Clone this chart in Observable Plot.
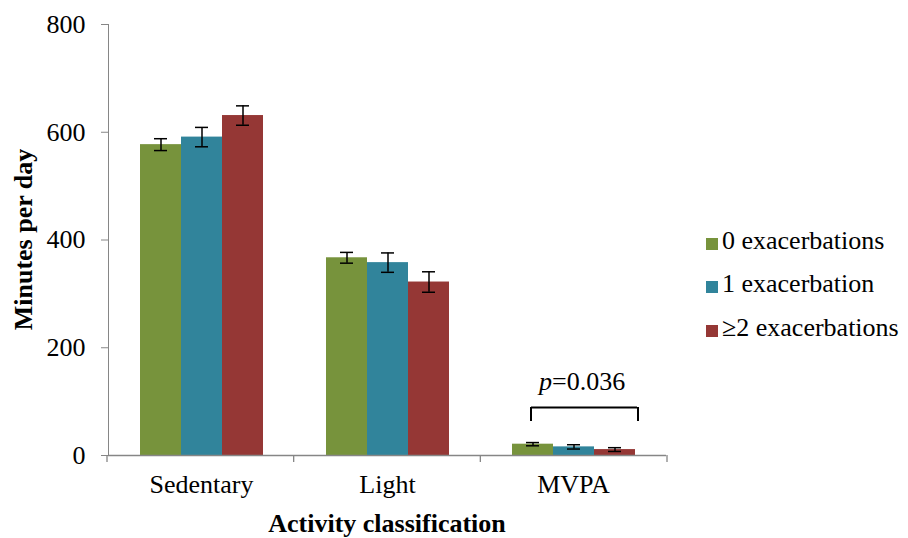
<!DOCTYPE html>
<html>
<head>
<meta charset="utf-8">
<script src="https://cdn.jsdelivr.net/npm/d3@7"></script>
<script src="https://cdn.jsdelivr.net/npm/@observablehq/plot@0.6"></script>
<style>
  body { margin: 0; background: #fff; }
  #chart { position: relative; width: 908px; height: 538px; font-family: "Liberation Serif", "Times New Roman", serif; }
  #chart svg, #chart svg text { font-family: "Liberation Serif", "Times New Roman", serif !important; }
  #chart svg text { fill: #000; }
  #legend { position: absolute; left: 706px; top: 219px; }
  #legend .lg-swatches { font-family: "Liberation Serif", "Times New Roman", serif !important; font-size: 26px; color: #000; margin: 0; }
  #legend .lg-swatch { height: 43.5px; align-items: center; padding: 0; }
  #legend .lg-swatch > svg { margin-right: 4px; transform: translateY(3px); }
</style>
</head>
<body>
<div id="chart"></div>
<script>
// Minutes per day by activity intensity, split by exacerbation count (mean ± SE)
const categories = ["Sedentary", "Light", "MVPA"];
const groups = ["0 exacerbations", "1 exacerbation", "≥2 exacerbations"];
const groupColors = ["#77933C", "#31849B", "#953735"];

const sedentaryMean = [577, 591, 631];
const sedentarySE = [11, 18, 18];
const lightMean = [367, 358, 322];
const lightSE = [10, 18, 19];
const mvpaMean = [21, 16, 11];
const mvpaSE = [3, 4, 3.5];

const yTicks = [0, 200, 400, 600, 800];

// Trend test across exacerbation groups for MVPA
const pValue = "0.036";
const bracketTop = 89;
const bracketLeg = 63;
const pLabelY = 122;

const means = [sedentaryMean, lightMean, mvpaMean];
const errors = [sedentarySE, lightSE, mvpaSE];
const rows = categories.flatMap((category, i) =>
  groups.map((group, j) => ({category, group, mean: means[i][j], se: errors[i][j]}))
);

const isMvpa = (g) => (d) => d.category === categories[2] && d.group === groups[g];
const ink = "#000";
const axisGrey = "#868686";

const chart = Plot.plot({
  width: 908,
  height: 538,
  marginLeft: 107,
  marginRight: 241,
  marginTop: 24,
  marginBottom: 83,
  style: {fontFamily: "'Liberation Serif', 'Times New Roman', serif", fontSize: "26px", color: axisGrey, background: "transparent", overflow: "visible"},
  facet: {data: rows, x: "category"},
  fx: {domain: categories, paddingInner: 0, paddingOuter: 0, axis: "bottom", label: null, tickSize: 0, tickPadding: 19},
  x: {domain: groups, axis: null, paddingInner: 0, paddingOuter: 0.744, align: 0.5},
  y: {domain: [0, 800], ticks: yTicks, tickSize: 7, tickPadding: 16, line: true, label: null},
  color: {domain: groups, range: groupColors},
  marks: [
    Plot.barY(rows, {x: "group", y: "mean", fill: "group"}),
    Plot.ruleY([0], {stroke: axisGrey, strokeWidth: 1.3}),
    // error bars
    Plot.ruleX(rows, {x: "group", y1: (d) => d.mean - d.se, y2: (d) => d.mean + d.se, stroke: ink, strokeWidth: 1.5}),
    Plot.tickY(rows, {x: "group", y: (d) => d.mean - d.se, inset: 14, stroke: ink, strokeWidth: 1.5}),
    Plot.tickY(rows, {x: "group", y: (d) => d.mean + d.se, inset: 14, stroke: ink, strokeWidth: 1.5}),
    // significance bracket over MVPA
    Plot.ruleY(rows, {filter: isMvpa(0), x1: () => groups[0], x2: () => groups[2], y: () => bracketTop, insetLeft: 19, insetRight: -2, stroke: ink, strokeWidth: 2}),
    Plot.ruleX(rows, {filter: isMvpa(0), x: "group", y1: () => bracketLeg, y2: () => bracketTop, dx: -2, stroke: ink, strokeWidth: 2}),
    Plot.ruleX(rows, {filter: isMvpa(2), x: "group", y1: () => bracketLeg, y2: () => bracketTop, dx: 23, stroke: ink, strokeWidth: 2}),
    Plot.text(rows, {filter: isMvpa(1), x: "group", y: () => pLabelY, text: () => "p", fontStyle: "italic", textAnchor: "end", lineAnchor: "bottom", dx: -22, fontSize: 26, fill: ink}),
    Plot.text(rows, {filter: isMvpa(1), x: "group", y: () => pLabelY, text: () => "=" + pValue, textAnchor: "start", lineAnchor: "bottom", dx: -22, fontSize: 26, fill: ink})
  ]
});

const container = document.getElementById("chart");
container.append(chart);

const svg = d3.select(chart);
const fx = chart.scale("fx");
const y = chart.scale("y");
const yBase = y.range[0];
const [fx0, fx1] = fx.range;
const step = (fx1 - fx0) / fx.domain.length;

// category boundary ticks along the x axis
svg.append("g")
  .selectAll("line")
  .data(d3.range(fx.domain.length + 1))
  .join("line")
  .attr("x1", (i) => fx0 + i * step)
  .attr("x2", (i) => fx0 + i * step)
  .attr("y1", yBase)
  .attr("y2", yBase + 7)
  .attr("stroke", axisGrey)
  .attr("stroke-width", 1.3);

// axis titles
svg.append("text")
  .attr("x", (fx0 + fx1) / 2)
  .attr("y", 532)
  .attr("text-anchor", "middle")
  .attr("font-weight", "bold")
  .attr("font-size", 26)
  .text("Activity classification");

svg.append("text")
  .attr("transform", `translate(32,${(y.range[0] + y.range[1]) / 2}) rotate(-90)`)
  .attr("text-anchor", "middle")
  .attr("font-weight", "bold")
  .attr("font-size", 26)
  .text("Minutes per day");

// grey axis lines and ticks
svg.selectAll('[aria-label^="y-axis"] line, [aria-label^="y-axis"] path').attr("stroke", axisGrey);

const legend = chart.legend("color", {columns: 1, swatchSize: 12, className: "lg"});
const legendBox = document.createElement("div");
legendBox.id = "legend";
legendBox.append(legend);
container.append(legendBox);
</script>
</body>
</html>
